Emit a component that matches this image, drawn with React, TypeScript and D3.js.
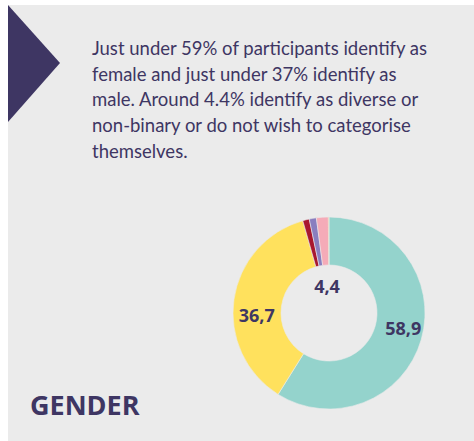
import React from 'react';
import * as d3 from 'd3';

// gender split, clockwise from 12 o'clock
const categories = ['female', 'male', 'diverse', 'non-binary', 'not categorised', 'other'];
const values = [58.9, 36.7, 1.1, 1.2, 2.0, 0.1];
const colors = ['#94d3cc', '#ffe15d', '#a8182f', '#8a7ebf', '#f5abb8', '#f0a040'];
const labels = ['58,9', '36,7', '4,4'];

const introLines = [
  'Just under 59% of participants identify as',
  'female and just under 37% identify as',
  'male. Around 4.4% identify as diverse or',
  'non-binary or do not wish to categorise',
  'themselves.',
];

const ink = '#3e3663';

export default function App() {
  const width = 474;
  const height = 441;
  const cx = 329;
  const cy = 313;
  const outerR = 96;
  const innerR = 48;

  const pie = d3.pie<number>().sort(null).value((d) => d);
  const arcs = pie(values);
  const arc = d3.arc<d3.PieArcDatum<number>>().innerRadius(innerR).outerRadius(outerR);

  // label spots: female & male in the ring, small groups inside the hole
  const labelArc = d3.arc<any>().innerRadius(innerR).outerRadius(outerR);
  const femaleC = labelArc.centroid(arcs[0]);
  const maleC = labelArc.centroid(arcs[1]);

  return (
    <svg width={width} height={height} style={{ position: 'absolute', left: 0, top: 0 }}>
      <rect x={0} y={0} width={width} height={height} fill="#ffffff" />
      <rect x={8} y={5} width={width - 8} height={height - 5} fill="#ebebeb" />
      <polygon points="8,5 60,63 8,122" fill={ink} />

      <text fill={ink} fontFamily="Lato, 'Open Sans', sans-serif" fontSize={18.5}>
        {introLines.map((t, i) => (
          <tspan key={i} x={92} y={55 + i * 25.7}>
            {t}
          </tspan>
        ))}
      </text>

      <g transform={`translate(${cx},${cy})`}>
        {arcs.map((a, i) => (
          <path
            key={categories[i]}
            d={arc(a) || ''}
            fill={colors[i]}
            stroke="#ebebeb"
            strokeWidth={0.6}
          />
        ))}
        <g fill={ink} fontFamily="'Open Sans', sans-serif" fontWeight={700} fontSize={18} textAnchor="middle">
          <text x={femaleC[0] + 5} y={femaleC[1] + 2}>
            {labels[0]}
          </text>
          <text x={maleC[0] - 1} y={maleC[1] + 19}>
            {labels[1]}
          </text>
          <text x={-2} y={-20}>
            {labels[2]}
          </text>
        </g>
      </g>

      <text x={30} y={415} fill={ink} fontFamily="'Open Sans', sans-serif" fontWeight={700} fontSize={27}>
        GENDER
      </text>
    </svg>
  );
}
